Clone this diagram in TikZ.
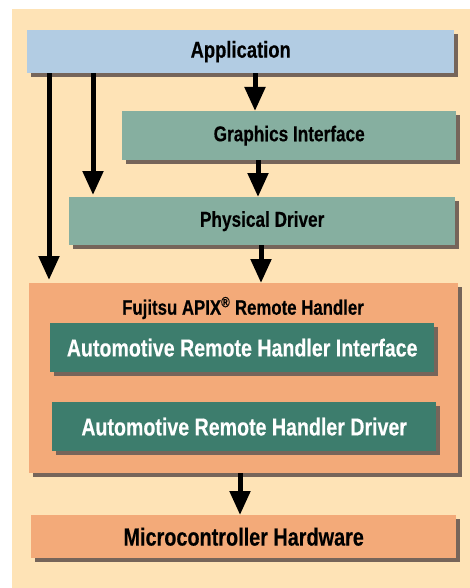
\documentclass[tikz,border=0pt]{standalone}
\usepackage{fontspec}
\setmainfont{Liberation Sans}[FakeStretch=0.8, BoldFeatures={FakeBold=0.3}]
\usetikzlibrary{arrows.meta,shadows}
\definecolor{bgc}{HTML}{FEE3B6}
\definecolor{appc}{HTML}{B2CCE3}
\definecolor{greenc}{HTML}{86AFA0}
\definecolor{tealc}{HTML}{3D7D6D}
\definecolor{orangec}{HTML}{F3AA79}
\definecolor{shadowc}{HTML}{76655A}
\tikzset{
    layer/.style = {anchor=north west, inner sep=0pt, font=\bfseries,
        drop shadow={shadow xshift=4pt, shadow yshift=-4pt, fill=shadowc, opacity=1}},
    arr/.style = {line width=5pt, -{Triangle[width=20pt,length=24pt]}}
}
\begin{document}
\begin{tikzpicture}[x=1pt,y=-1pt]
    \useasboundingbox (0,0) rectangle (470,588);
    \fill[bgc] (12,9) rectangle (470,588);
    % layers
    \node[layer, fill=appc, minimum width=427pt, minimum height=43pt,
          font=\bfseries\fontsize{23}{23}\selectfont] (app) at (27,30) {Application};
    \node[layer, fill=greenc, minimum width=334pt, minimum height=49pt,
          font=\bfseries\fontsize{21.5}{21.5}\selectfont] (gfx) at (122,111) {Graphics Interface};
    \node[layer, fill=greenc, minimum width=386pt, minimum height=48pt,
          font=\bfseries\fontsize{21.5}{21.5}\selectfont] (phys) at (69,197) {Physical Driver};
    \node[layer, fill=orangec, minimum width=429pt, minimum height=190pt] (rh) at (29,283) {};
    \node[font=\bfseries\fontsize{21}{21}\selectfont] (rhtitle) at (243,308)
          {Fujitsu APIX\textsuperscript{®} Remote Handler};
    \node[layer, fill=tealc, text=white, minimum width=384pt, minimum height=49pt,
          font=\bfseries\fontsize{24.5}{24.5}\selectfont] (arhi) at (50,323) {Automotive Remote Handler Interface};
    \node[layer, fill=tealc, text=white, minimum width=384pt, minimum height=49pt,
          font=\bfseries\fontsize{24.5}{24.5}\selectfont] (arhd) at (52,402) {Automotive Remote Handler Driver};
    \node[layer, fill=orangec, minimum width=425pt, minimum height=43pt,
          font=\bfseries\fontsize{24.8}{24.8}\selectfont] (mcu) at (31,515) {Microcontroller Hardware};
    % arrows
    \draw[arr] (app.south -| 255,0) -- (gfx.north -| 255,0);
    \draw[arr] (gfx.south -| 258,0) -- (phys.north -| 258,0);
    \draw[arr] (phys.south -| 261,0) -- (rh.north -| 261,0);
    \draw[arr] (rh.south -| 240,0) -- (mcu.north -| 240,0);
    \draw[arr] (app.south -| 93,0) -- ([yshift=2pt]phys.north -| 93,0);
    \draw[arr] (app.south -| 49,0) -- ([yshift=3pt]rh.north -| 49,0);
\end{tikzpicture}
\end{document}
